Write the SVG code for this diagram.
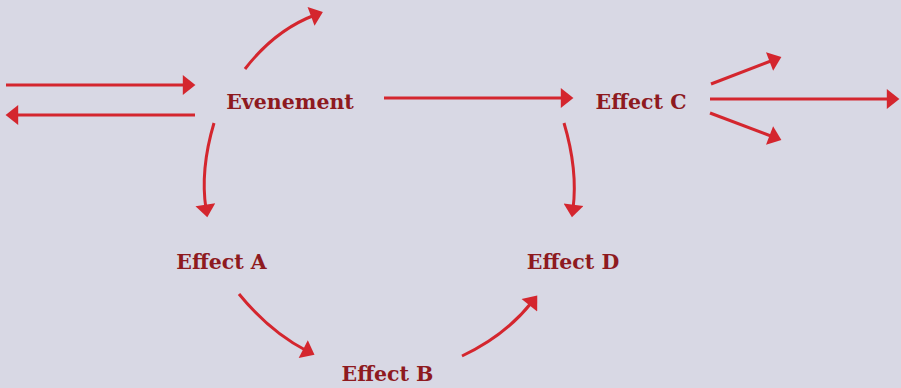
<svg xmlns="http://www.w3.org/2000/svg" width="901" height="388" viewBox="0 0 901 388">
<style>
.c{fill:none;stroke:#D4262E;stroke-width:3;marker-end:url(#ah)}
.t{font-family:"DejaVu Serif",serif;font-weight:bold;font-size:20.5px;fill:#8E1A1F;text-anchor:middle}
</style>
<defs>
<marker id="ah" markerUnits="userSpaceOnUse" markerWidth="14" markerHeight="20" refX="4" refY="9.5" orient="auto" viewBox="0 0 12 19">
<path d="M0,0 L12,9.5 L0,19 z" fill="#D4262E"/>
</marker>
</defs>
<rect width="901" height="388" fill="#D8D8E4"/>
<g id="connectors">
<path class="c" d="M6,85 H187"/>
<path class="c" d="M195,115 H14"/>
<path class="c" d="M245,69 Q275,30 315,15"/>
<path class="c" d="M384,98 H565"/>
<path class="c" d="M711,84 L773.5,60"/>
<path class="c" d="M710,99 H891"/>
<path class="c" d="M710,113 L773.5,137"/>
<path class="c" d="M214,123 Q200,170 206,209"/>
<path class="c" d="M564,123 Q578,170 573,209"/>
<path class="c" d="M239,294 Q270,332 307,351"/>
<path class="c" d="M462,356 Q505,336 532,302"/>
</g>
<g id="evenement"><text class="t" x="290" y="109">Evenement</text></g>
<g id="effect-c"><text class="t" x="641" y="109">Effect C</text></g>
<g id="effect-a"><text class="t" x="221.5" y="269">Effect A</text></g>
<g id="effect-d"><text class="t" x="573" y="269">Effect D</text></g>
<g id="effect-b"><text class="t" x="387.5" y="381">Effect B</text></g>
</svg>
